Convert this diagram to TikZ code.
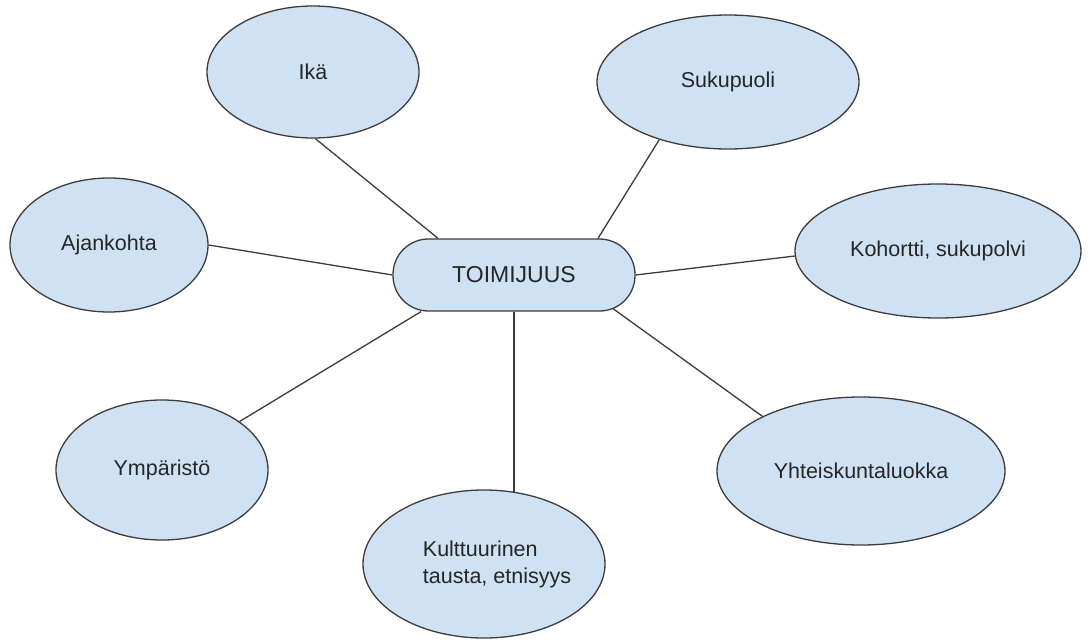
\documentclass[tikz,border=0pt]{standalone}
\usepackage{fontspec}
\setmainfont{Liberation Sans}
\usetikzlibrary{shapes.geometric}
\definecolor{bubble}{HTML}{CFE2F3}
\definecolor{rim}{HTML}{3C3C3C}

\begin{document}
\begin{tikzpicture}[x=1pt,y=-1pt,
  bub/.style={ellipse,draw=rim,fill=bubble,line width=1.3pt,inner sep=0pt,
    text=black!85,font=\fontsize{21.5}{27}\selectfont},
  link/.style={draw=rim,line width=1.3pt}]
\useasboundingbox (0,0) rectangle (1090,640);

\node[bub,minimum width=212pt,minimum height=132pt] (ika) at (313,72) {Ikä};
\node[bub,minimum width=262pt,minimum height=134pt] (suk) at (728,82) {Sukupuoli};
\node[bub,minimum width=198pt,minimum height=134pt] (ajan) at (109,245) {Ajankohta};
\node[bub,minimum width=286pt,minimum height=134pt] (koh) at (938,251) {Kohortti, sukupolvi};
\node[bub,minimum width=212pt,minimum height=140pt] (ymp) at (162,470) {Ympäristö};
\node[bub,minimum width=242pt,minimum height=148pt,
  label={[align=left,xshift=13pt,font=\fontsize{21.5}{27}\selectfont,text=black!85]center:Kulttuurinen\\tausta, etnisyys}]
  (kul) at (484,564) {};
\node[bub,minimum width=288pt,minimum height=148pt] (yht) at (861,471) {Yhteiskuntaluokka};

% keskella
\node[bub,rectangle,rounded corners=35.5pt,minimum width=242pt,minimum height=72pt,
  font=\fontsize{23}{27}\selectfont] (toim) at (514,275) {TOIMIJUUS};

\draw[link] (ika.-88) -- ([xshift=-76pt]toim.north);
\draw[link] (suk.-140) -- ([xshift=84pt]toim.north);
\draw[link] (ajan.east) -- (toim.west);
\draw[link] (toim.east) -- (koh.182);
\draw[link] (ymp.32) -- ([xshift=-93pt]toim.south);
\draw[link] (toim.south) -- (toim.south |- kul.68);
\draw[link] ([xshift=99pt,yshift=3pt]toim.south) -- (yht.151);
\end{tikzpicture}
\end{document}
